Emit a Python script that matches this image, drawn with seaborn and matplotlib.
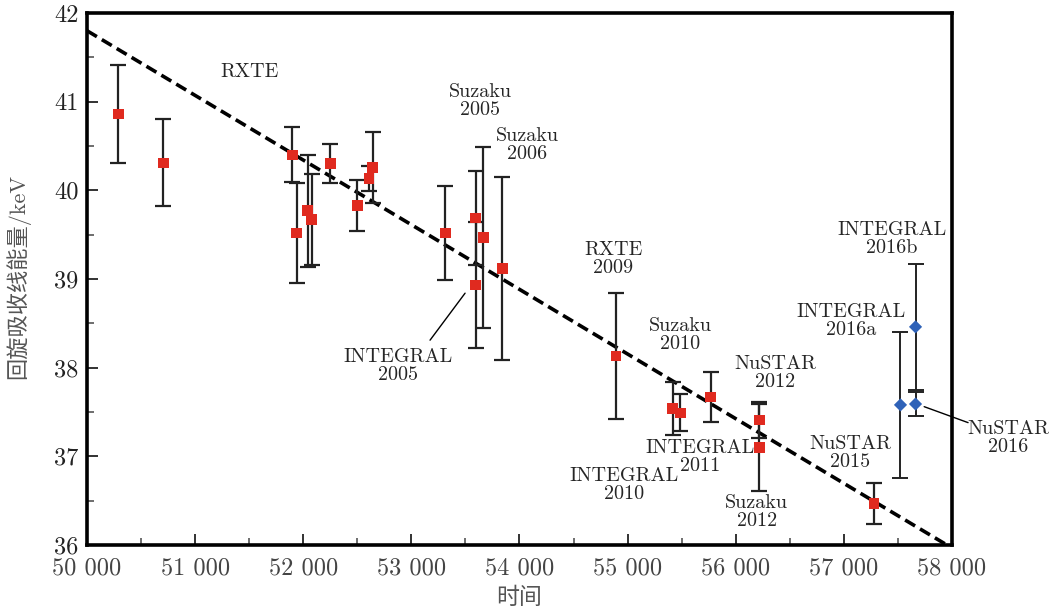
import matplotlib
matplotlib.use("Agg")
import matplotlib.pyplot as plt
import seaborn as sns
import pandas as pd
from matplotlib.ticker import MultipleLocator

sns.set_theme(style="white")
plt.rcParams["font.family"] = ["cmr10", "Noto Sans CJK SC", "DejaVu Serif"]
plt.rcParams["axes.formatter.use_mathtext"] = True

# Cyclotron line energy measurements (MJD, keV, 1-sigma error)
red_mjd = [50290, 50706, 51899, 51940, 52041, 52078, 52251, 52500, 52609, 52643,
           53315, 53596, 53596, 53667, 53843, 54891, 55418, 55488, 55769, 56218,
           56218, 57277]
red_energy = [40.86, 40.31, 40.40, 39.52, 39.77, 39.67, 40.30, 39.83, 40.13, 40.26,
              39.52, 39.69, 38.93, 39.47, 39.12, 38.13, 37.54, 37.49, 37.67, 37.41,
              37.10, 36.47]
red_err = [0.55, 0.49, 0.31, 0.56, 0.63, 0.51, 0.22, 0.29, 0.14, 0.40,
           0.53, 0.53, 0.71, 1.02, 1.03, 0.71, 0.30, 0.21, 0.28, 0.20,
           0.49, 0.23]

blue_mjd = [57524, 57663, 57663]
blue_energy = [37.58, 38.46, 37.59]
blue_err = [0.82, 0.71, 0.14]

# Linear decay trend
trend_mjd = [50000, 58000]
trend_energy = [41.80, 35.966]

x_ticks = [50000, 51000, 52000, 53000, 54000, 55000, 56000, 57000, 58000]
x_tick_labels = ["50 000", "51 000", "52 000", "53 000", "54 000",
                 "55 000", "56 000", "57 000", "58 000"]
y_ticks = [36, 37, 38, 39, 40, 41, 42]

labels = ["RXTE", "Suzaku\n2005", "Suzaku\n2006", "INTEGRAL\n2005", "RXTE\n2009",
          "Suzaku\n2010", "NuSTAR\n2012", "INTEGRAL\n2011", "INTEGRAL\n2010",
          "Suzaku\n2012", "NuSTAR\n2015", "INTEGRAL\n2016a", "INTEGRAL\n2016b",
          "NuSTAR\n2016"]
label_x = [51499, 53636, 54070, 52877, 54866, 55486, 56364, 55671, 54968,
           56195, 57058, 57065, 57447, 58520]
label_y = [41.33, 41.01, 40.51, 38.02, 39.22, 38.37, 37.94, 36.99, 36.68,
           36.37, 37.04, 38.53, 39.45, 37.21]

red_df = pd.DataFrame({"mjd": red_mjd, "energy": red_energy, "err": red_err})
blue_df = pd.DataFrame({"mjd": blue_mjd, "energy": blue_energy, "err": blue_err})

fig = plt.figure(figsize=(10.49, 6.09), dpi=100)
ax = fig.add_axes([0.0829, 0.1051, 0.8246, 0.8736])

sns.lineplot(x=trend_mjd, y=trend_energy, ax=ax, color="black", lw=2.6,
             linestyle=(0, (3.2, 1.6)), zorder=2)

ax.errorbar(red_df["mjd"], red_df["energy"], yerr=red_df["err"], fmt="none",
            ecolor="#222222", elinewidth=1.6, capsize=5.5, capthick=1.6, zorder=3)
ax.errorbar(blue_df["mjd"], blue_df["energy"], yerr=blue_df["err"], fmt="none",
            ecolor="#222222", elinewidth=1.4, capsize=5.5, capthick=1.4, zorder=3)

sns.scatterplot(data=red_df, x="mjd", y="energy", ax=ax, marker="s", s=58,
                color="#e02a1f", edgecolor="none", zorder=4)
sns.scatterplot(data=blue_df, x="mjd", y="energy", ax=ax, marker="D", s=45,
                color="#2f62b8", edgecolor="none", zorder=4)

for text, lx, ly in zip(labels, label_x, label_y):
    ax.text(lx, ly, text, ha="center", va="center", fontsize=14.5,
            linespacing=1.0, clip_on=False, zorder=5)

# leader lines to crowded points
ax.plot([53173, 53497], [38.31, 38.84], color="black", lw=1.0, zorder=3)
ax.plot([57743, 58149], [37.56, 37.38], color="black", lw=1.0, zorder=3,
        clip_on=False)

ax.set_xlim(50000, 58000)
ax.set_ylim(36, 42)
ax.set_xticks(x_ticks, x_tick_labels)
ax.set_yticks(y_ticks, [str(v) for v in y_ticks])
ax.xaxis.set_minor_locator(MultipleLocator(500))
ax.yaxis.set_minor_locator(MultipleLocator(0.5))
ax.tick_params(axis="both", which="major", direction="in", length=8, width=1.3,
               labelsize=17.5, colors="#222222")
ax.tick_params(axis="x", which="major", pad=9, labelcolor="#444444")
ax.tick_params(axis="y", which="major", pad=6, labelcolor="#222222")
ax.tick_params(axis="both", which="minor", direction="in", length=5, width=1.2,
               colors="#555555")
ax.tick_params(bottom=True, left=True, top=False, right=False, which="both")

for sp in ax.spines.values():
    sp.set_linewidth(2.6)
    sp.set_color("black")

ax.set_xlabel("时间", fontsize=16.5, color="#555555", va="center")
ax.xaxis.set_label_coords(0.5, -0.098)
ax.set_ylabel("回旋吸收线能量/keV", fontsize=16, color="#555555", va="center")
ax.yaxis.set_label_coords(-0.08, 0.505)

fig.savefig("out.png", dpi=100)
